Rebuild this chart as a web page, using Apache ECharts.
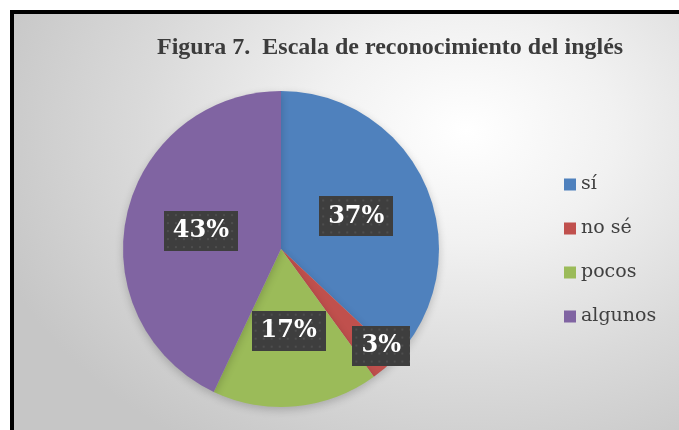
<!DOCTYPE html>
<html>
<head>
<meta charset="utf-8">
<script src="https://cdn.jsdelivr.net/npm/echarts@6/dist/echarts.min.js"></script>
<style>
  body { margin: 0; background: #fff; }
  #frame {
    position: absolute; left: 10px; top: 10px; width: 665px; height: 416px;
    border-left: 4px solid #000; border-top: 4px solid #000;
    background: radial-gradient(ellipse 75% 90% at 68% 28%, #ffffff 0%, #f1f1f1 30%, #dadada 65%, #c6c6c6 100%);
  }
  #chart { position: absolute; left: 0; top: 0; width: 679px; height: 430px; }
</style>
</head>
<body>
<div id="frame"></div>
<div id="chart"></div>
<script>
const categories = ["sí", "no sé", "pocos", "algunos"];
const percents = [37, 3, 17, 43];
const sliceColors = ["#4f81bd", "#c0504d", "#9bbb59", "#8064a2"];
const titleText = "Figura 7.  Escala de reconocimiento del inglés";

// dotted dark box behind the data labels
function dotBox(w, h) {
  const c = document.createElement("canvas");
  c.width = w;
  c.height = h;
  const ctx = c.getContext("2d");
  ctx.fillStyle = "#3e3e3e";
  ctx.fillRect(0, 0, w, h);
  ctx.fillStyle = "#4e4e4e";
  for (let y = 3; y < h; y += 8) {
    for (let x = 3; x < w; x += 8) {
      ctx.fillRect(x, y, 2, 2);
    }
  }
  return c;
}

const labelBase = {
  show: true,
  position: "inside",
  formatter: "{c}%",
  color: "#fff",
  fontFamily: "DejaVu Serif",
  fontWeight: "bold",
  fontSize: 24,
  lineHeight: 24,
  padding: [8, 9],
  backgroundColor: { image: dotBox(74, 40) },
  shadowBlur: 6,
  shadowOffsetX: 3,
  shadowOffsetY: 4,
  shadowColor: "rgba(0,0,0,0.5)",
};

const pieData = categories.map((name, i) => {
  const item = { name: name, value: percents[i], itemStyle: { color: sliceColors[i] } };
  if (name === "no sé") {
    item.label = { offset: [46, 35], backgroundColor: { image: dotBox(60, 40) } };
  }
  return item;
});

const chart = echarts.init(document.getElementById("chart"));
chart.setOption({
  backgroundColor: "transparent",
  animation: false,
  title: {
    text: titleText,
    left: 157,
    top: 36,
    padding: 0,
    textStyle: {
      fontFamily: "Liberation Serif",
      fontWeight: "bold",
      fontSize: 24,
      color: "#3c3c3c",
    },
  },
  legend: {
    orient: "vertical",
    left: 564,
    top: 175,
    padding: 0,
    icon: "rect",
    itemWidth: 12,
    itemHeight: 12,
    itemGap: 25,
    data: categories,
    textStyle: {
      fontFamily: "DejaVu Serif",
      fontSize: 19,
      color: "#404040",
    },
  },
  series: [
    {
      type: "pie",
      center: [281, 249],
      radius: 158,
      startAngle: 90,
      clockwise: true,
      avoidLabelOverlap: false,
      itemStyle: {
        shadowBlur: 8,
        shadowOffsetY: 3,
        shadowColor: "rgba(0,0,0,0.2)",
      },
      label: labelBase,
      labelLine: { show: false },
      emphasis: { disabled: true },
      data: pieData,
    },
  ],
});
</script>
</body>
</html>
